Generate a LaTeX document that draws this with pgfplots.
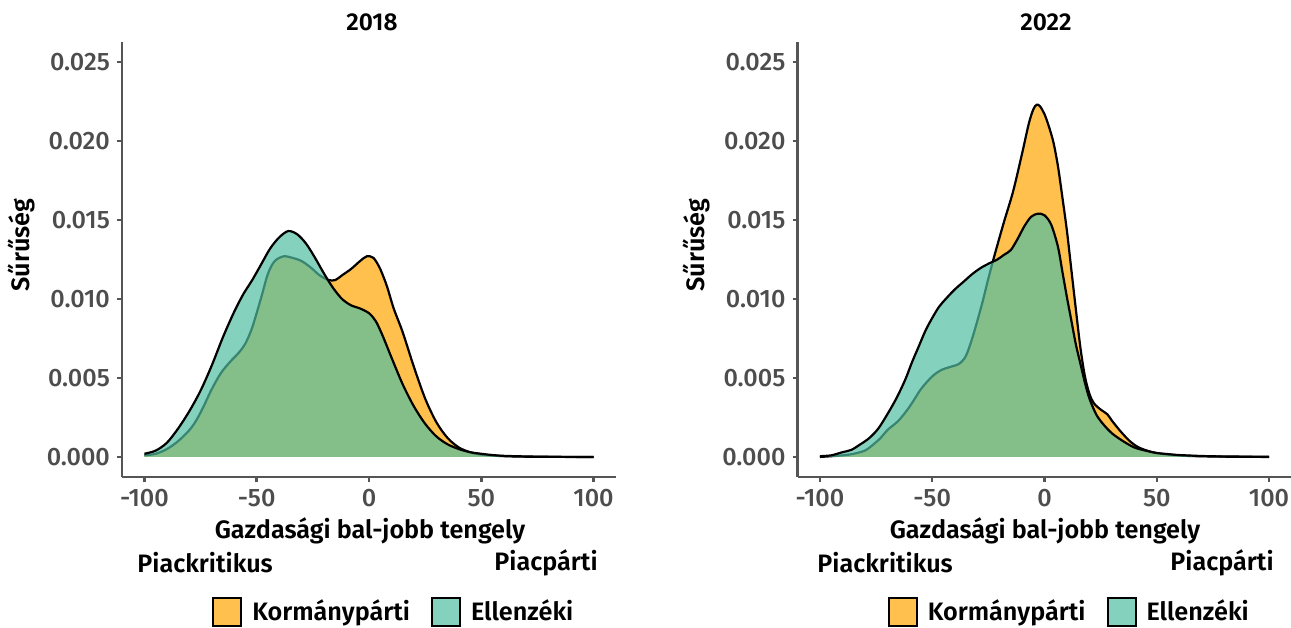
\documentclass[border=0pt]{standalone}
\usepackage{pgfplots}
\usepackage{pgfplotstable}
\pgfplotsset{compat=1.18}
\usepackage{fontspec}
\setmainfont{Fira Sans}[BoldFont={Fira Sans SemiBold}]
\newfontfamily\medfont{Fira Sans Medium}
\definecolor{kor}{RGB}{255,192,77}
\definecolor{ell}{RGB}{80,190,162}
\definecolor{axgray}{RGB}{85,85,85}
\definecolor{tickgray}{RGB}{77,77,77}

\pgfplotstableread{
x y
-100 0.0001
-95 0.0002
-90 0.0005
-85 0.0010
-80 0.0017
-77 0.0023
-74 0.0031
-70 0.0043
-66 0.0053
-62 0.0060
-58 0.0066
-55 0.0072
-52 0.0082
-48 0.0101
-45 0.0116
-42 0.0124
-38 0.0127
-34 0.0126
-30 0.0124
-26 0.0120
-22 0.0115
-18 0.0112
-15 0.0112
-12 0.0115
-8 0.0119
-4 0.0124
-1 0.0127
2 0.0126
5 0.0119
8 0.0108
11 0.0094
15 0.0079
20 0.0057
25 0.0037
30 0.0022
35 0.0012
40 0.0006
45 0.0003
50 0.00015
60 0.00005
75 0.00001
100 0
}\korA

\pgfplotstableread{
x y
-100 0.0002
-95 0.0004
-90 0.0009
-85 0.0018
-80 0.0029
-75 0.0042
-70 0.0058
-65 0.0076
-60 0.0092
-56 0.0103
-52 0.0112
-48 0.0122
-44 0.0132
-40 0.0139
-36 0.0143
-32 0.0141
-28 0.0135
-24 0.0126
-20 0.0116
-16 0.0107
-12 0.0100
-8 0.0096
-4 0.0094
0 0.0091
3 0.0086
6 0.0077
10 0.0063
15 0.0046
20 0.0032
25 0.0021
30 0.0013
35 0.0008
40 0.0005
45 0.0003
50 0.0002
55 0.00012
60 0.00007
70 0.00003
80 0.00001
100 0
}\ellA

\pgfplotstableread{
x y
-100 0
-90 0.0001
-85 0.0002
-80 0.0004
-77 0.0007
-73 0.0012
-70 0.0017
-65 0.0023
-60 0.0032
-55 0.0043
-50 0.0051
-46 0.0055
-42 0.0057
-38 0.0059
-35 0.0064
-32 0.0076
-28 0.0096
-25 0.0113
-22 0.0129
-18 0.0149
-14 0.0168
-10 0.0192
-7 0.0211
-5 0.0220
-3.5 0.0223
-2 0.0222
0 0.0217
2 0.0209
4 0.0199
6 0.0184
8 0.0164
10 0.0143
12 0.0118
14 0.0093
16 0.0069
18 0.0051
20 0.0040
22 0.0034
25 0.0030
28 0.0027
30 0.0023
34 0.0016
38 0.0010
42 0.0006
48 0.0003
55 0.00015
65 0.00006
80 0.00002
100 0
}\korB

\pgfplotstableread{
x y
-100 0.00005
-95 0.0001
-90 0.0003
-86 0.00045
-82 0.0008
-78 0.0012
-74 0.0018
-70 0.0027
-66 0.0037
-62 0.0049
-59 0.0060
-56 0.0070
-53 0.0080
-50 0.0088
-47 0.0095
-44 0.0100
-40 0.0106
-36 0.0111
-32 0.0116
-28 0.0120
-24 0.0123
-21 0.0125
-18 0.0128
-15 0.0131
-12 0.0138
-9 0.0146
-6 0.0152
-3 0.0154
0 0.0153
3 0.0147
6 0.0133
8 0.0117
10 0.0101
12 0.0086
14 0.0071
16 0.0059
18 0.0047
20 0.0037
23 0.0027
26 0.0021
30 0.0015
35 0.0010
40 0.0006
45 0.0004
50 0.00025
55 0.00018
60 0.00012
70 0.00006
80 0.00003
100 0.00001
}\ellB

\pgfplotsset{
 dens/.style={
  scale only axis, width=247pt, height=217.5pt,
  xmin=-110, xmax=110, ymin=-0.00127, ymax=0.02627,
  axis x line*=bottom, axis y line*=left,
  axis line style={axgray, line width=1.25pt},
  xtick={-100,-50,0,50,100},
  ytick={0,0.005,0.01,0.015,0.02,0.025},
  tick style={axgray, line width=1.25pt},
  tick align=outside, major tick length=2.5pt,
  scaled y ticks=false,
  yticklabel style={/pgf/number format/fixed, /pgf/number format/fixed zerofill, /pgf/number format/precision=3},
  /pgf/number format/assume math mode=true,
  ticklabel style={font=\medfont\fontsize{12.6}{14}\selectfont, text=tickgray},
  clip=false,
  legend columns=2,
  legend style={draw=none, fill=none, inner sep=0pt, at={(axis description cs:0.182,-0.31)}, anchor=west,
    font=\bfseries\fontsize{12.6}{14}\selectfont,
    /tikz/every odd column/.style={column sep=2.5pt},
    /tikz/every even column/.style={column sep=8pt},
    nodes={inner sep=2.5pt}},
 },
 fillk/.style={draw=none, fill=kor, smooth},
 fille/.style={draw=none, fill=ell, fill opacity=0.7, smooth},
 outl/.style={black, line width=1.1pt, smooth},
}

\begin{document}
\begin{tikzpicture}
\useasboundingbox (0,0) rectangle (645.5pt,-313.5pt);
\begin{axis}[dens, at={(61pt,-238.5pt)}, anchor=south west]
\addlegendimage{legend image code/.code={\draw[line width=1pt, fill=kor] (0pt,-7pt) rectangle (14pt,7pt);}}
\addlegendentry{Kormánypárti}
\addlegendimage{legend image code/.code={\draw[line width=1pt, fill=ell, fill opacity=0.7] (0pt,-7pt) rectangle (14pt,7pt);}}
\addlegendentry{Ellenzéki}
\addplot[fillk, forget plot] table {\korA} \closedcycle;
\addplot[outl, forget plot] table {\korA};
\addplot[fille, forget plot] table {\ellA} \closedcycle;
\addplot[outl, forget plot] table {\ellA};
\end{axis}
\begin{axis}[dens, at={(398.75pt,-238.5pt)}, anchor=south west]
\addlegendimage{legend image code/.code={\draw[line width=1pt, fill=kor] (0pt,-7pt) rectangle (14pt,7pt);}}
\addlegendentry{Kormánypárti}
\addlegendimage{legend image code/.code={\draw[line width=1pt, fill=ell, fill opacity=0.7] (0pt,-7pt) rectangle (14pt,7pt);}}
\addlegendentry{Ellenzéki}
\addplot[fillk, forget plot] table {\korB} \closedcycle;
\addplot[outl, forget plot] table {\korB};
\addplot[fille, forget plot] table {\ellB} \closedcycle;
\addplot[outl, forget plot] table {\ellB};
\end{axis}
\begin{scope}[every node/.style={font=\bfseries\fontsize{12.6}{14}\selectfont, inner sep=0pt}]
\node[font=\bfseries\fontsize{12.2}{14}\selectfont] at (186pt,-11.25pt) {2018};
\node[font=\bfseries\fontsize{12.2}{14}\selectfont] at (523pt,-11.25pt) {2022};
\node[rotate=90] at (11pt,-122.5pt) {Sűrűség};
\node[rotate=90] at (348.5pt,-122.5pt) {Sűrűség};
\node at (185pt,-265.5pt) {Gazdasági bal-jobb tengely};
\node at (522.5pt,-265.5pt) {Gazdasági bal-jobb tengely};
\node[anchor=west] at (68.5pt,-281.5pt) {Piackritikus};
\node[anchor=east] at (299pt,-281.5pt) {Piacpárti};
\node[anchor=west] at (408.5pt,-281.5pt) {Piackritikus};
\node[anchor=east] at (637pt,-281.5pt) {Piacpárti};
\end{scope}
\end{tikzpicture}
\end{document}
